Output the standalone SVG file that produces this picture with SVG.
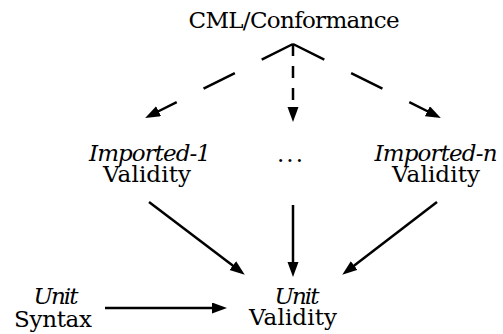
<svg xmlns="http://www.w3.org/2000/svg" width="503" height="334" viewBox="0 0 503 334">
<style>
text{fill:#000;text-anchor:middle;font-size:23px;font-family:"DejaVu Serif",serif}
.it{font-style:italic}
.c{fill:none;stroke:#000;stroke-width:2.5}
.d{stroke-dasharray:35 30}
.dv{stroke-dasharray:12 10}
</style>
<defs>
<marker id="ah" markerUnits="userSpaceOnUse" markerWidth="18" markerHeight="12" refX="4" refY="5.5" orient="auto" viewBox="0 0 18 12">
<path d="M0,0 L15,5.5 L0,11 Z" fill="#000"/>
</marker>
</defs>
<rect width="503" height="334" fill="#fff"/>
<g id="cml"><text x="294" y="28" font-size="22" textLength="211">CML/Conformance</text></g>
<g id="imported1"><text class="it" x="150" y="161" font-size="20" textLength="122">Imported-1</text><text x="147" y="182" font-size="20" textLength="88">Validity</text></g>
<g id="dots"><text x="290" y="162" textLength="26">...</text></g>
<g id="importedn"><text class="it" x="436" y="161" font-size="20" textLength="123">Imported-n</text><text x="436" y="182" font-size="20" textLength="88">Validity</text></g>
<g id="unitsyntax"><text class="it" x="56" y="304" font-size="20" textLength="45">Unit</text><text x="53" y="327" font-size="20" textLength="78">Syntax</text></g>
<g id="unitvalidity"><text class="it" x="297" y="304" font-size="20" textLength="45">Unit</text><text x="293" y="325" font-size="20" textLength="88">Validity</text></g>
<g id="connectors">
<line class="c d" x1="293" y1="44" x2="155" y2="113" marker-end="url(#ah)"/>
<line class="c d" x1="293" y1="44" x2="431" y2="113" marker-end="url(#ah)"/>
<line class="c dv" x1="293" y1="44" x2="293" y2="111" marker-end="url(#ah)"/>
<line class="c" stroke-width="2" x1="149" y1="202" x2="236" y2="268" marker-end="url(#ah)"/>
<line class="c" x1="293" y1="205" x2="293" y2="266" marker-end="url(#ah)"/>
<line class="c" stroke-width="2" x1="437" y1="202" x2="351" y2="268" marker-end="url(#ah)"/>
<line class="c" stroke-width="3.5" x1="105" y1="308" x2="216" y2="308" marker-end="url(#ah)"/>
</g>
</svg>
